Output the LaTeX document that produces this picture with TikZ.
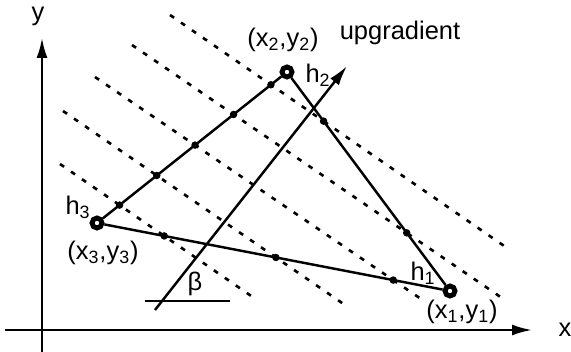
\documentclass[tikz,border=0pt]{standalone}
\usepackage{fontspec}
\setmainfont{Liberation Sans}
\usetikzlibrary{arrows.meta,intersections}

\begin{document}
\begin{tikzpicture}[>={Latex[length=0.4cm,width=0.22cm]},
  font=\fontsize{14.5}{17}\selectfont,
  axis/.style={line width=1.3pt},
  edge/.style={line width=1.4pt},
  contour/.style={line width=1.5pt,dash pattern=on 2.8pt off 4.8pt},
  well/.style={circle,draw,line width=2.8pt,fill=white,inner sep=0pt,minimum size=0.2cm},
  crossing/.style={fill=black}]
  \useasboundingbox (0,0) rectangle (11.42,7.04);
  % axes
  \coordinate (xstart) at (0.1,0.44);
  \coordinate (xend) at (10.64,0.44);
  \coordinate (ystart) at (0.84,0);
  \coordinate (yend) at (0.84,6.28);
  \draw[->,axis] (xstart) -- (xend);
  \draw[->,axis] (ystart) -- (yend);
  \node (xlab) at (11.3,0.44) {x};
  \node (ylab) at (0.76,6.72) {y};
  % equipotential lines
  \foreach \k/\a/\b in {1/{3.4,6.74}/{10.2,2.04},2/{2.64,6.14}/{10.04,1.08},
      3/{1.9,5.5}/{8.48,1.02},4/{1.26,4.82}/{6.9,0.94},5/{1.2,3.76}/{5.14,1.04}}
    \draw[contour,name path global=c\k] (\a) -- (\b);
  % wells
  \node[well] (p1) at (9.0,1.22) {};
  \node[well] (p2) at (5.74,5.6) {};
  \node[well] (p3) at (1.94,2.58) {};
  \draw[edge,name path=e32] (p3) -- (p2);
  \draw[edge,name path=e21] (p2) -- (p1);
  \draw[edge,name path=e31] (p3) -- (p1);
  \foreach \k in {1,...,5}
    \fill[crossing,name intersections={of=e32 and c\k,name=s}] (s-1) circle (0.075);
  \foreach \k in {1,2}
    \fill[crossing,name intersections={of=e21 and c\k,name=s}] (s-1) circle (0.075);
  \foreach \k in {3,4,5}
    \fill[crossing,name intersections={of=e31 and c\k,name=s}] (s-1) circle (0.075);
  % gradient
  \coordinate (gtail) at (3.1,0.84);
  \coordinate (ghead) at (6.94,5.72);
  \draw[->,edge] (gtail) -- (ghead);
  \coordinate (bleft) at (2.9,1.02);
  \coordinate (bright) at (4.6,1.02);
  \draw[line width=0.9pt] (bleft) -- (bright);
  \node (beta) at (3.9,1.36) {β};
  \node (grad) at (8.0,6.38) {upgradient};
  % labels
  \node (h1) at (8.46,1.58) {h\textsubscript{1}};
  \node (h2) at (6.36,5.54) {h\textsubscript{2}};
  \node (h3) at (1.56,2.9) {h\textsubscript{3}};
  \node (l1) at (9.24,0.8) {(x\textsubscript{1},y\textsubscript{1})};
  \node (l2) at (5.66,6.24) {(x\textsubscript{2},y\textsubscript{2})};
  \node (l3) at (2.06,1.98) {(x\textsubscript{3},y\textsubscript{3})};
\end{tikzpicture}
\end{document}
